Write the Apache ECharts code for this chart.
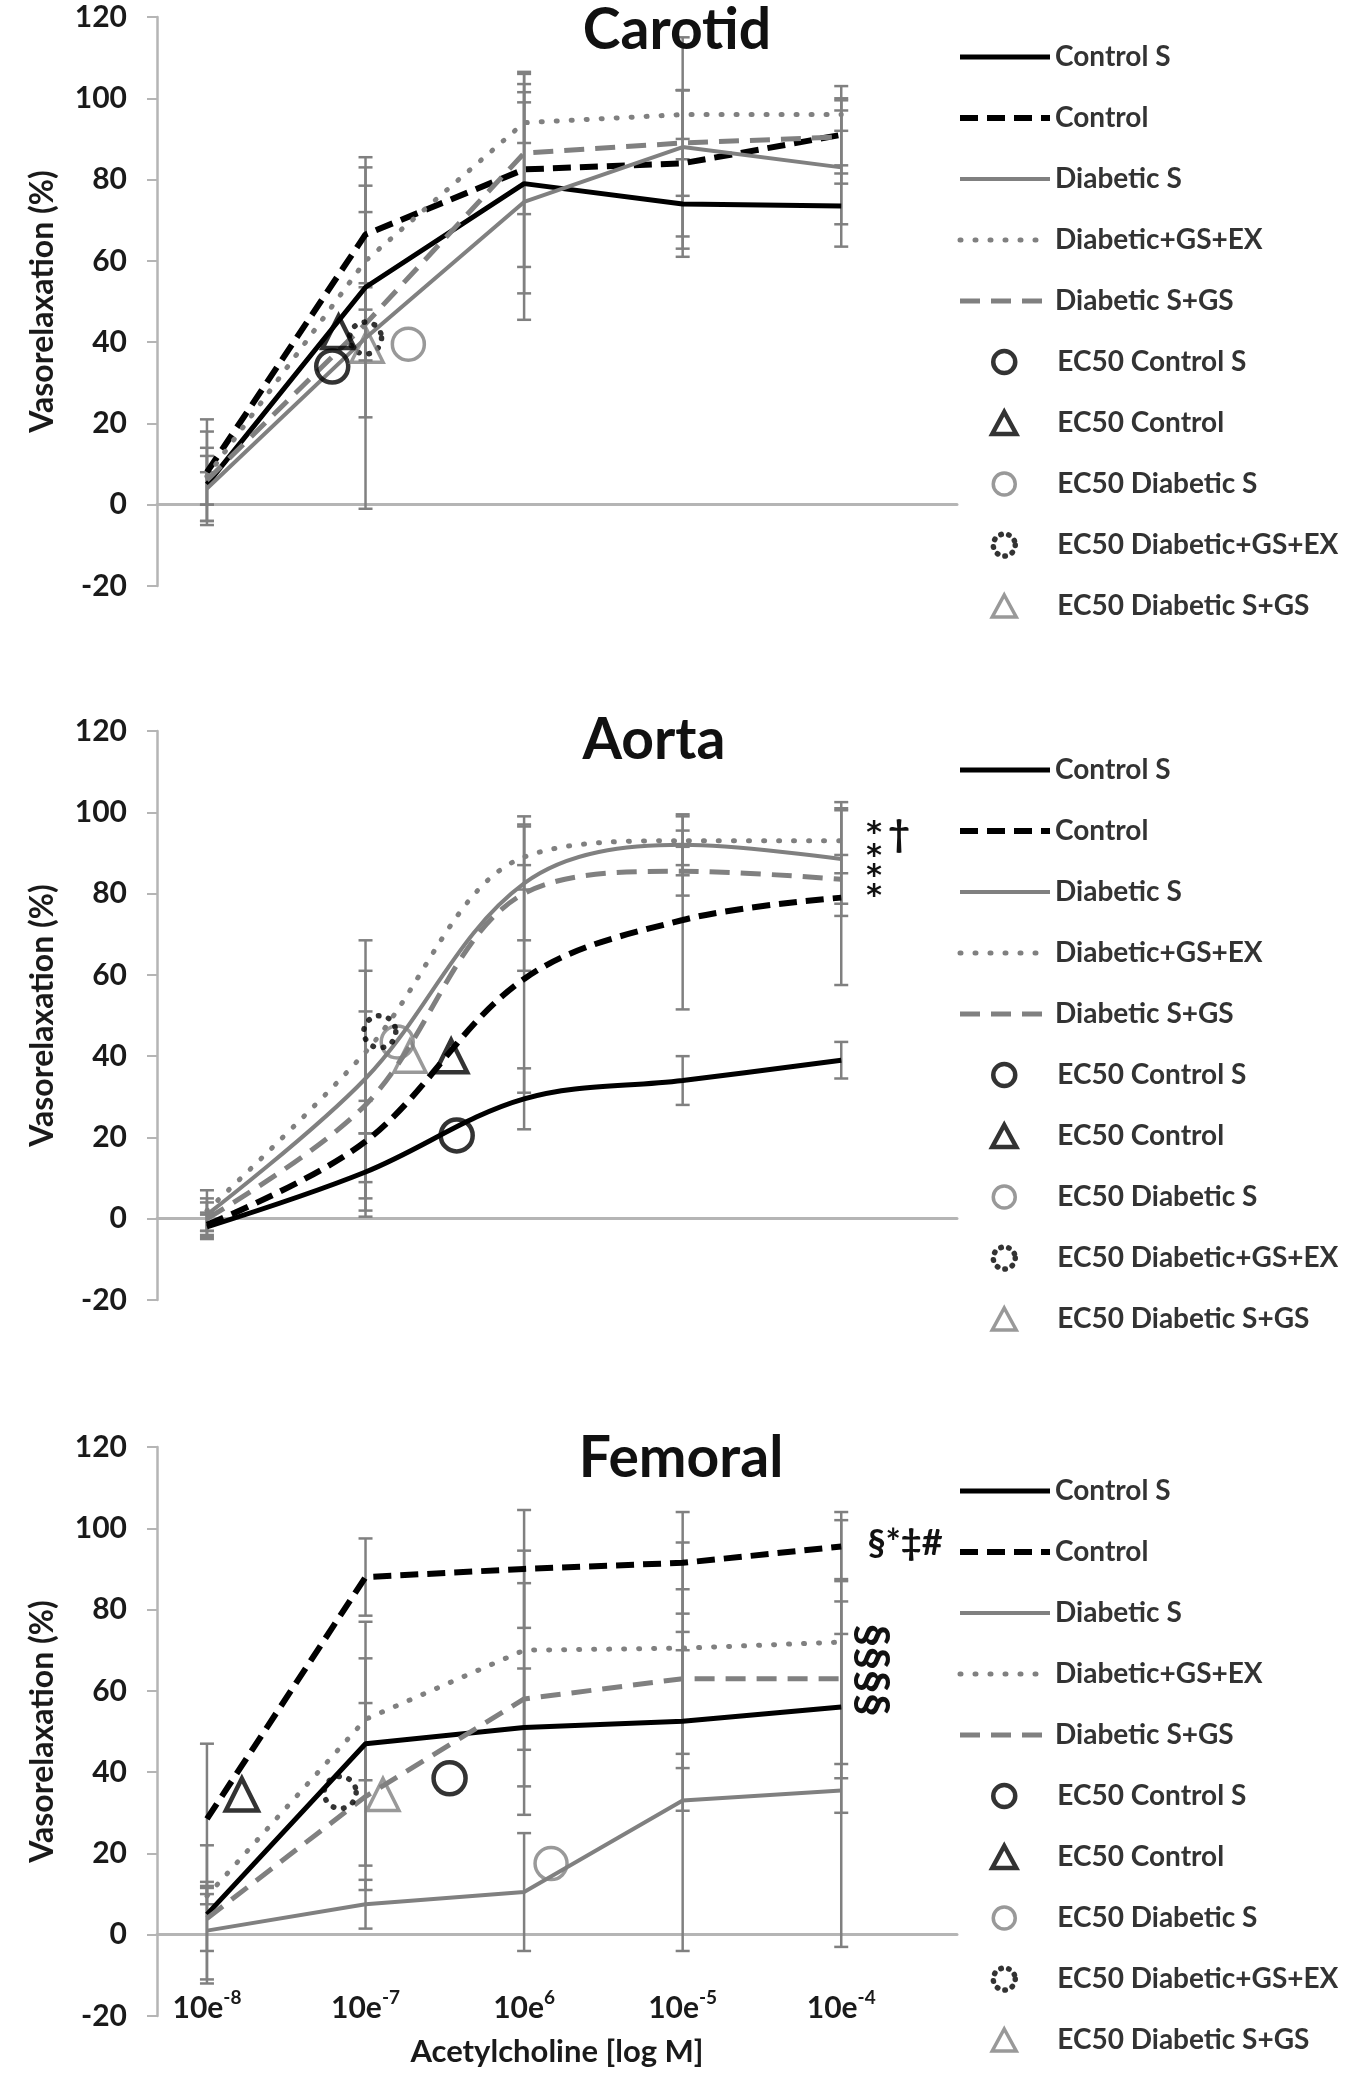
<!DOCTYPE html>
<html>
<head>
<meta charset="utf-8">
<script src="https://cdn.jsdelivr.net/npm/echarts@6/dist/echarts.min.js"></script>
<style>
  html, body { margin: 0; padding: 0; background: #fff; }
  #container { width: 1350px; height: 2074px; }
</style>
</head>
<body>
<div id="container"></div>
<script>
// dose positions (index along the x axis) and the label exponents
var doses = [0, 1, 2, 3, 4];
var doseExponents = ['-8', '-7', '6', '-5', '-4'];

var seriesNames = ['Control S', 'Control', 'Diabetic S', 'Diabetic+GS+EX', 'Diabetic S+GS'];
var ec50Names = ['EC50 Control S', 'EC50 Control', 'EC50 Diabetic S', 'EC50 Diabetic+GS+EX', 'EC50 Diabetic S+GS'];
var panelTitles = ['Carotid', 'Aorta', 'Femoral'];

// Carotid
var carotidControlS = [5, 53.5, 79, 74, 73.5];
var carotidControl = [8, 66.5, 82.5, 84, 91];
var carotidDiabeticS = [4, 41, 74.5, 88, 83];
var carotidDiabeticGSEX = [7, 60, 94, 96, 96];
var carotidDiabeticSGS = [6, 44.5, 86.5, 89, 90.5];
var carotidErrControlS = [9, 32, 27, 11, 10];
var carotidErrControl = [13, 12, 24, 18, 12];
var carotidErrDiabeticS = [4, 42, 29, 27, 14];
var carotidErrDiabeticGSEX = [11, 12, 5, 6, 4];
var carotidErrDiabeticSGS = [6, 9, 15, 13, 9];
var carotidEC50X = [0.79, 0.83, 1.27, 1.0, 1.01];
var carotidEC50Y = [34, 42.5, 39.5, 41, 39];

// Aorta
var aortaControlS = [-2, 11.5, 29.5, 34, 39];
var aortaControl = [-1.5, 19, 59, 73.5, 79];
var aortaDiabeticS = [1, 34.5, 82.5, 92, 88.5];
var aortaDiabeticGSEX = [2, 41, 89, 93, 93];
var aortaDiabeticSGS = [0, 28, 80, 85.5, 83.5];
var aortaErrControlS = [3, 9.5, 7.5, 6, 4.5];
var aortaErrControl = [3, 10, 28, 22, 21.5];
var aortaErrDiabeticS = [4, 34, 14, 7.5, 14];
var aortaErrDiabeticGSEX = [5, 20, 8, 6, 8];
var aortaErrDiabeticSGS = [4, 23, 19, 6, 6];
var aortaEC50X = [1.575, 1.54, 1.2, 1.09, 1.28];
var aortaEC50Y = [20.5, 40, 43.5, 46, 40];

// Femoral
var femoralControlS = [5, 47, 51, 52.5, 56];
var femoralControl = [28.5, 88, 90, 91.5, 95.5];
var femoralDiabeticS = [1, 7.5, 10.5, 33, 35.5];
var femoralDiabeticGSEX = [9.5, 53, 70, 70.5, 72];
var femoralDiabeticSGS = [4, 34, 58, 63, 63];
var femoralErrControlS = [17, 30, 14.5, 22, 26];
var femoralErrControl = [18.5, 9.5, 14.5, 12.5, 8.5];
var femoralErrDiabeticS = [12, 6, 14.5, 37, 38.5];
var femoralErrDiabeticGSEX = [2, 15, 24.5, 26, 30];
var femoralErrDiabeticSGS = [8, 23, 28.5, 22, 24.5];
var femoralEC50X = [1.53, 0.22, 2.17, 0.84, 1.11];
var femoralEC50Y = [38.5, 34.5, 17.5, 35, 34.5];

var panels = [
    {
        lines: [carotidControlS, carotidControl, carotidDiabeticS, carotidDiabeticGSEX, carotidDiabeticSGS],
        errs: [carotidErrControlS, carotidErrControl, carotidErrDiabeticS, carotidErrDiabeticGSEX, carotidErrDiabeticSGS],
        ecX: carotidEC50X, ecY: carotidEC50Y, smooth: false
    },
    {
        lines: [aortaControlS, aortaControl, aortaDiabeticS, aortaDiabeticGSEX, aortaDiabeticSGS],
        errs: [aortaErrControlS, aortaErrControl, aortaErrDiabeticS, aortaErrDiabeticGSEX, aortaErrDiabeticSGS],
        ecX: aortaEC50X, ecY: aortaEC50Y, smooth: 0.35
    },
    {
        lines: [femoralControlS, femoralControl, femoralDiabeticS, femoralDiabeticGSEX, femoralDiabeticSGS],
        errs: [femoralErrControlS, femoralErrControl, femoralErrDiabeticS, femoralErrDiabeticGSEX, femoralErrDiabeticSGS],
        ecX: femoralEC50X, ecY: femoralEC50Y, smooth: false
    }
];

var FONT = 'Lato';
var GRAY = '#808080';
var AXIS_GRAY = '#b5b5b5';
var CLEAR = 'rgba(255,255,255,0)';

// look of the five curves
var lineLooks = [
    { color: '#000', width: 5, type: 'solid', cap: 'butt' },
    { color: '#000', width: 6, type: [18, 9], cap: 'butt' },
    { color: GRAY, width: 4, type: 'solid', cap: 'butt' },
    { color: GRAY, width: 5, type: [1, 14], cap: 'round' },
    { color: GRAY, width: 5, type: [20, 11], cap: 'butt' }
];
// look of the EC50 markers
var markLooks = [
    { symbol: 'circle', color: '#000', width: 4.5, type: 'solid' },
    { symbol: 'triangle', color: '#000', width: 4.5, type: 'solid' },
    { symbol: 'circle', color: GRAY, width: 3.5, type: 'solid' },
    { symbol: 'circle', color: '#000', width: 5.5, type: [0.5, 10] },
    { symbol: 'triangle', color: GRAY, width: 3.5, type: 'solid' }
];

var gridTops = [17, 731, 1447];
var gridH = 569;
var legendTops = [42, 755, 1476];
var ROW = 61;

function renderErr(params, api) {
    var x = api.value(0);
    var top = api.coord([x, api.value(2)]);
    var bot = api.coord([x, api.value(1)]);
    var hw = 7;
    var st = { stroke: GRAY, lineWidth: 2.5 };
    return {
        type: 'group',
        children: [
            { type: 'line', shape: { x1: top[0], y1: top[1], x2: bot[0], y2: bot[1] }, style: st },
            { type: 'line', shape: { x1: top[0] - hw, y1: top[1], x2: top[0] + hw, y2: top[1] }, style: st },
            { type: 'line', shape: { x1: bot[0] - hw, y1: bot[1], x2: bot[0] + hw, y2: bot[1] }, style: st }
        ]
    };
}

var legendText = { fontFamily: FONT, fontSize: 28, fontWeight: 'bold', color: '#333', lineHeight: 30 };

var grids = [], xAxes = [], yAxes = [], series = [], legends = [];

panels.forEach(function(p, k) {
    grids.push({ left: 157, width: 800, top: gridTops[k], height: gridH });

    // x axis that draws the horizontal line through 0
    xAxes.push({
        type: 'value', gridIndex: k, min: -0.315, max: 4.73, position: 'bottom',
        axisLine: { show: true, onZero: true, lineStyle: { color: AXIS_GRAY, width: 3 } },
        axisTick: { show: false }, axisLabel: { show: false }, splitLine: { show: false }
    });

    yAxes.push({
        type: 'value', gridIndex: k, min: -20, max: 120, interval: 20,
        axisLine: { show: true, onZero: false, lineStyle: { color: AXIS_GRAY, width: 2.5 } },
        axisTick: { show: true, length: 10, lineStyle: { color: AXIS_GRAY, width: 2 } },
        axisLabel: { fontFamily: FONT, fontSize: 30, fontWeight: 'bold', color: '#1a1a1a', margin: 30 },
        splitLine: { show: false },
        name: 'Vasorelaxation (%)', nameLocation: 'middle', nameGap: 98,
        nameTextStyle: { fontFamily: FONT, fontSize: 32, fontWeight: 'bold', color: '#1a1a1a' }
    });

    // error bars first so the curves sit on top
    var errData = [];
    p.lines.forEach(function(vals, s) {
        doses.forEach(function(d, i) {
            errData.push([d, vals[i] - p.errs[s][i], vals[i] + p.errs[s][i]]);
        });
    });
    series.push({
        type: 'custom', name: 'err' + k, xAxisIndex: k, yAxisIndex: k,
        renderItem: renderErr, data: errData, z: 1, silent: true
    });

    p.lines.forEach(function(vals, s) {
        var lk = lineLooks[s];
        series.push({
            type: 'line', name: seriesNames[s], xAxisIndex: k, yAxisIndex: k,
            data: doses.map(function(d, i) { return [d, vals[i]]; }),
            symbol: 'none', smooth: p.smooth, z: 2,
            lineStyle: { color: lk.color, width: lk.width, type: lk.type, cap: lk.cap },
            itemStyle: { color: lk.color }
        });
    });

    p.ecX.forEach(function(x, s) {
        var mk = markLooks[s];
        series.push({
            type: 'scatter', name: ec50Names[s], xAxisIndex: k, yAxisIndex: k,
            data: [[x, p.ecY[s]]],
            symbol: mk.symbol, symbolSize: 32, z: 3,
            itemStyle: {
                color: CLEAR, borderColor: mk.color,
                borderWidth: mk.width, borderType: mk.type, borderCap: 'round'
            }
        });
    });

    // legend for the curves: plain line icons
    legends.push({
        left: 957, top: legendTops[k], orient: 'vertical', padding: 0,
        itemWidth: 90, itemHeight: 22, itemGap: ROW - 30, selectedMode: false,
        data: seriesNames.map(function(n, s) {
            var lk = lineLooks[s];
            return {
                name: n,
                itemStyle: { color: CLEAR, borderWidth: 0, opacity: 0 },
                lineStyle: { color: lk.color, width: lk.width, type: lk.type, cap: lk.cap, opacity: 1 }
            };
        }),
        textStyle: legendText
    });

    // legend for the EC50 markers: small symbols centred under the lines
    legends.push({
        left: 990, top: legendTops[k] + 5 * ROW, orient: 'vertical', padding: 0,
        itemWidth: 24, itemHeight: 22, itemGap: ROW - 30, selectedMode: false,
        data: ec50Names.map(function(n, s) {
            var mk = markLooks[s];
            return {
                name: n,
                itemStyle: {
                    color: CLEAR, borderColor: mk.color, borderWidth: mk.width,
                    borderType: s === 3 ? [0.5, 7.5] : 'solid', borderCap: 'round'
                }
            };
        }),
        textStyle: Object.assign({ padding: [0, 0, 0, 36] }, legendText)
    });
});

// bottom axis with the dose labels and the axis title
xAxes.push({
    type: 'value', gridIndex: 2, min: -0.315, max: 4.73, position: 'bottom',
    axisLine: { show: false, onZero: false }, axisTick: { show: false }, splitLine: { show: false },
    axisLabel: {
        customValues: doses, margin: -28,
        formatter: function(v) { return '{b|10e}{s|' + doseExponents[Math.round(v)] + '}'; },
        rich: {
            b: { fontFamily: FONT, fontSize: 30, fontWeight: 'bold', color: '#1a1a1a', lineHeight: 40 },
            s: { fontFamily: FONT, fontSize: 19, fontWeight: 'bold', color: '#1a1a1a', verticalAlign: 'top', lineHeight: 22 }
        }
    },
    name: 'Acetylcholine [log M]', nameLocation: 'middle', nameGap: 20,
    nameTextStyle: { fontFamily: FONT, fontSize: 31, fontWeight: 'bold', color: '#1a1a1a', verticalAlign: 'top' }
});

function label(text, x, y, size, extra, family) {
    var g = {
        type: 'text', x: x, y: y, z: 10,
        style: {
            text: text, fill: '#111', font: 'bold ' + size + 'px ' + (family || FONT),
            textAlign: 'center', textVerticalAlign: 'middle'
        }
    };
    if (extra) { for (var key in extra) { g[key] = extra[key]; } }
    return g;
}

var graphics = [
    label(panelTitles[0], 677, 31, 57),
    label(panelTitles[1], 654, 741, 57),
    label(panelTitles[2], 681, 1459, 57),
    // aorta significance marks
    label('*', 874, 834, 30, null, '"DejaVu Sans"'),
    label('\u2020', 899, 835, 38),
    label('*', 874, 857, 30, null, '"DejaVu Sans"'),
    label('*', 874, 877, 30, null, '"DejaVu Sans"'),
    label('*', 874, 897, 30, null, '"DejaVu Sans"'),
    // femoral significance marks
    label('\u00a7*\u2021#', 905, 1543, 36),
    label('\u00a7\u00a7\u00a7\u00a7', 872, 1670, 46, { rotation: -Math.PI / 2 })
];

var option = {
    backgroundColor: '#fff',
    animation: false,
    textStyle: { fontFamily: FONT },
    grid: grids,
    xAxis: xAxes,
    yAxis: yAxes,
    legend: legends,
    series: series,
    graphic: graphics
};

var myChart = echarts.init(document.getElementById('container'));
myChart.setOption(option);
</script>
</body>
</html>
